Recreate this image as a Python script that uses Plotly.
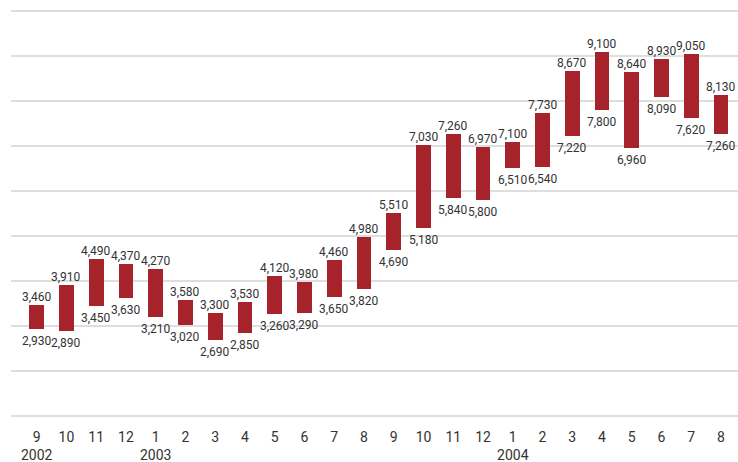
import plotly.graph_objects as go

months = ["9", "10", "11", "12", "1", "2", "3", "4", "5", "6", "7", "8",
          "9", "10", "11", "12", "1", "2", "3", "4", "5", "6", "7", "8"]
years = {0: "2002", 4: "2003", 16: "2004"}
high = [3460, 3910, 4490, 4370, 4270, 3580, 3300, 3530, 4120, 3980, 4460, 4980,
        5510, 7030, 7260, 6970, 7100, 7730, 8670, 9100, 8640, 8930, 9050, 8130]
low = [2930, 2890, 3450, 3630, 3210, 3020, 2690, 2850, 3260, 3290, 3650, 3820,
       4690, 5180, 5840, 5800, 6510, 6540, 7220, 7800, 6960, 8090, 7620, 7260]

x = list(range(len(months)))
ticktext = [m + ("<br>" + years[i] if i in years else "") for i, m in enumerate(months)]

BAR = "#a6232b"
TXT = "#333333"
GRID = "#dedede"
FONT = "Roboto, Liberation Sans, sans-serif"

fig = go.Figure()
fig.add_trace(go.Bar(
    x=x, y=[h - l for h, l in zip(high, low)], base=low,
    width=0.49, marker=dict(color=BAR, line=dict(width=0)),
    hoverinfo="skip",
))

annotations = []
for i, (h, l) in enumerate(zip(high, low)):
    annotations.append(dict(x=i, y=h, xref="x", yref="y", text=f"{h:,}",
                            showarrow=False, yanchor="middle", yshift=8,
                            font=dict(size=12, color=TXT, family=FONT)))
    annotations.append(dict(x=i, y=l, xref="x", yref="y", text=f"{l:,}",
                            showarrow=False, yanchor="middle", yshift=-12,
                            font=dict(size=12, color=TXT, family=FONT)))

fig.update_layout(
    width=738, height=462,
    margin=dict(l=11, r=0, t=5, b=40, autoexpand=False),
    paper_bgcolor="white", plot_bgcolor="white",
    showlegend=False,
    annotations=annotations,
    bargap=0,
    xaxis=dict(range=[-0.864, 23.57], tickvals=x, ticktext=ticktext,
               showgrid=False, zeroline=False, showline=False, automargin=False,
               ticks="outside", ticklen=2, tickcolor="rgba(0,0,0,0)",
               tickfont=dict(size=14, color=TXT, family=FONT)),
    yaxis=dict(range=[866.67, 10133.33], dtick=1000, tick0=0,
               showgrid=True, gridcolor=GRID, gridwidth=2, automargin=False,
               zeroline=False, showline=False, showticklabels=False, ticks=""),
)

fig.write_html("out.html")
